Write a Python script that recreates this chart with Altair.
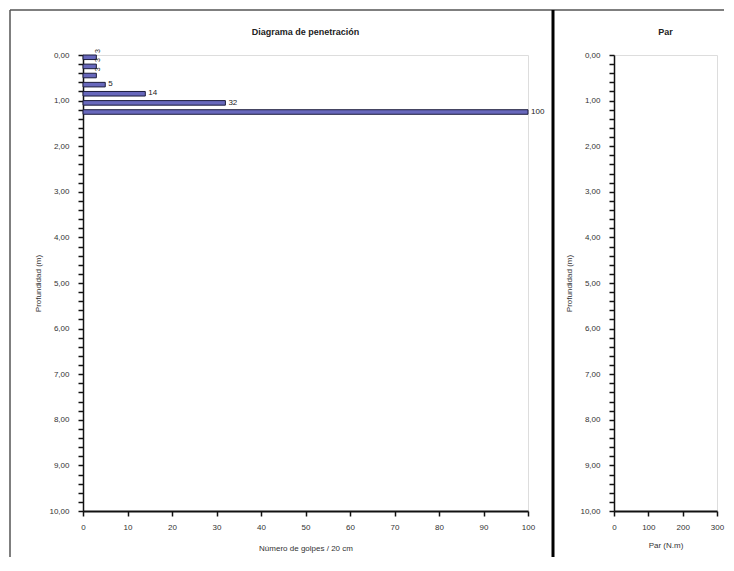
import altair as alt
import pandas as pd

# ---- data ----
depth_top = [0.0, 0.2, 0.4, 0.6, 0.8, 1.0, 1.2]
golpes = [3, 3, 3, 5, 14, 32, 100]
depth_ticks = [round(i * 0.2, 1) for i in range(51)]
golpes_ticks = [0, 10, 20, 30, 40, 50, 60, 70, 80, 90, 100]
par_ticks = [0, 100, 200, 300]

df = pd.DataFrame({
    "top": depth_top,
    "bot": [d + 0.1 for d in depth_top],
    "golpes": golpes,
    "zero": [0] * len(depth_top),
})
one = pd.DataFrame({"a": [0]})

FONT = "Liberation Sans"
W1, W2, H = 445, 103, 456
TOP, LEFT = -45, -73

ylab = ("abs(datum.value - round(datum.value)) < 0.001 ? "
        "replace(format(datum.value, '.2f'), '.', ',') : ''")

def yaxis():
    return alt.Axis(values=depth_ticks, labelExpr=ylab, title="Profundidad (m)",
                    grid=False, tickSize=5, tickColor="#111", tickWidth=1.5,
                    domainColor="#111", domainWidth=1.5, labelFontSize=8,
                    labelColor="#333", labelPadding=9, titleFontSize=8,
                    titleFontWeight="normal", titleColor="#333", titlePadding=6,
                    labelFlush=False, labelOverlap=False)

def xaxis_left():
    return alt.Axis(values=golpes_ticks, title="Número de golpes / 20 cm",
                    grid=False, tickSize=5, tickColor="#111", tickWidth=1.5,
                    domainColor="#111", domainWidth=2, labelFontSize=8,
                    labelColor="#333", labelPadding=7, titleFontSize=8,
                    titleFontWeight="normal", titleColor="#333",
                    titlePadding=13, labelFlush=False)

yscale = alt.Scale(domain=[0, 10], reverse=True, nice=False, padding=0)
xscale = alt.Scale(domain=[0, 100], nice=False, padding=0)

base = alt.Chart(df)
X = alt.X("golpes:Q", scale=xscale, axis=xaxis_left())
Y = alt.Y("top:Q", scale=yscale, axis=yaxis())

bars = base.mark_bar(color="#6868bc", stroke="#1c1c3c", strokeWidth=1).encode(
    x=X, x2="zero:Q", y=Y, y2="bot:Q",
)
labels = base.transform_filter("datum.top > 0.5").mark_text(
    align="left", baseline="middle", dx=3, dy=2, fontSize=8, font=FONT, color="#222"
).encode(x=X, y=Y, text="golpes:Q")
labels_small = base.transform_filter("datum.top < 0.5").mark_text(
    align="center", baseline="middle", dx=4, dy=2, angle=270, fontSize=7,
    font=FONT, color="#222"
).encode(x=X, y=Y, text="golpes:Q")

frame = alt.Chart(one)
left_border = frame.mark_rule(color="#555", strokeWidth=1.5).encode(
    x=alt.value(LEFT), y=alt.value(TOP), y2=alt.value(502))
top_border = frame.mark_rule(color="#555", strokeWidth=1.5).encode(
    x=alt.value(LEFT), x2=alt.value(641), y=alt.value(TOP))
divider = frame.mark_rule(color="#000", strokeWidth=3).encode(
    x=alt.value(470), y=alt.value(TOP), y2=alt.value(502))
title_left = frame.mark_text(fontSize=9, font=FONT, fontWeight="bold",
                             color="#222", baseline="middle").encode(
    x=alt.value(W1 / 2), y=alt.value(-23), text=alt.value("Diagrama de penetración"))

left = alt.layer(left_border, top_border, divider, title_left,
                 bars, labels, labels_small).properties(width=W1, height=H)

par_df = pd.DataFrame({"par": [0], "depth": [0]})
right_pts = alt.Chart(par_df).mark_point(opacity=0).encode(
    x=alt.X("par:Q", scale=alt.Scale(domain=[0, 300], nice=False, padding=0),
            axis=alt.Axis(values=par_ticks, title="Par (N.m)", grid=False,
                          tickSize=5, tickColor="#111", tickWidth=1.5,
                          domainColor="#111", domainWidth=2, labelFontSize=8,
                          labelColor="#333", labelPadding=7, titleFontSize=8,
                          titleFontWeight="normal", titleColor="#333",
                          titlePadding=10, labelFlush=False)),
    y=alt.Y("depth:Q", scale=yscale, axis=yaxis()),
)
title_right = alt.Chart(one).mark_text(fontSize=9, font=FONT, fontWeight="bold",
                                       color="#222", baseline="middle").encode(
    x=alt.value(W2 / 2), y=alt.value(-23), text=alt.value("Par"))
right = alt.layer(right_pts, title_right).properties(width=W2, height=H)

chart = alt.hconcat(left, right, spacing=86, bounds="flush").properties(
    padding=0,
).configure_view(stroke="#aaa", strokeWidth=1.5).configure(
    font=FONT
).configure_axis(labelFont=FONT, titleFont=FONT)

chart.save("out.html", embed_options={"renderer": "svg", "actions": False})
